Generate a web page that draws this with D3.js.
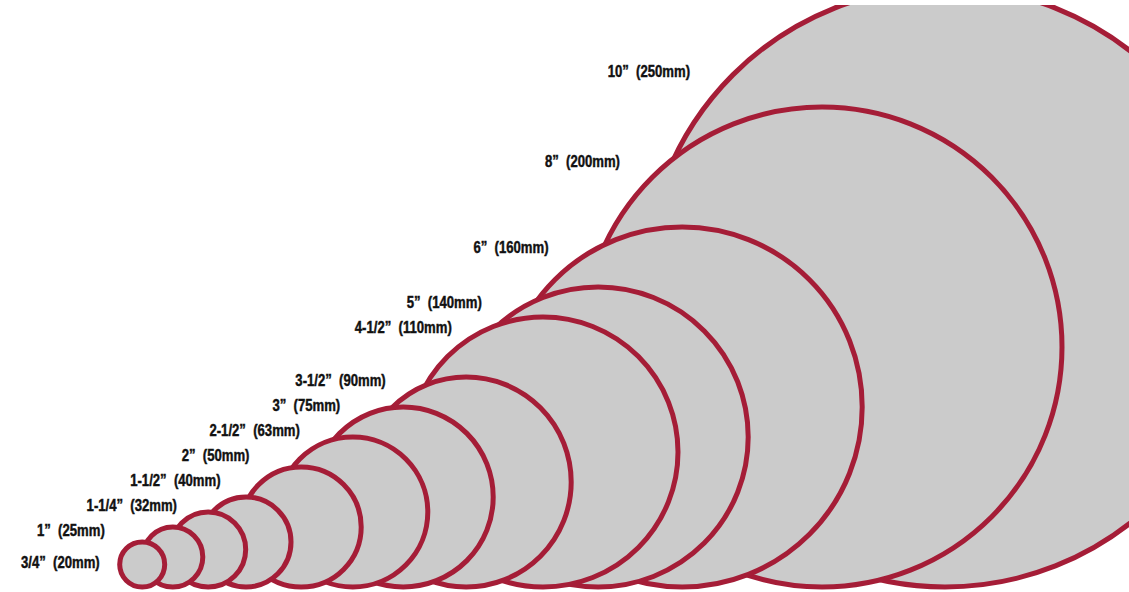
<!DOCTYPE html>
<html>
<head>
<meta charset="utf-8">
<script src="https://cdn.jsdelivr.net/npm/d3@7"></script>
<style>
  html, body { margin: 0; padding: 0; background: #ffffff; }
  svg { display: block; }
  .lbl { font-family: "Liberation Sans", Arial, sans-serif; font-weight: bold; font-size: 16px; fill: #111111; stroke: #111111; stroke-width: 0.45px; white-space: pre; }
</style>
</head>
<body>
<svg id="chart" width="1129" height="592"></svg>
<script>
// ---- data ----
const sizeLabels  = ["3/4", "1", "1-1/4", "1-1/2", "2", "2-1/2", "3", "3-1/2", "4-1/2", "5", "6", "8", "10"];
const diameterIn  = [0.75, 1, 1.25, 1.5, 2, 2.5, 3, 3.5, 4.5, 5, 6, 8, 10];
const diameterMm  = [20, 25, 32, 40, 50, 63, 75, 90, 110, 140, 160, 200, 250];
// horizontal position of each disc centre along the baseline, in inches
const centerIn    = [2.37, 2.88, 3.47, 4.10, 5.02, 5.88, 6.72, 7.77, 9.05, 9.97, 11.37, 13.70, 15.75];

// ---- layout ----
const W = 1129, H = 592;
const rS = d3.scaleLinear().domain([0, 1]).range([0, 60]);     // inches -> px
const xS = d3.scaleLinear().domain([0, 1]).range([0, 60]);     // inches -> px (horizontal)
const yS = d3.scaleLinear().domain([0, 1]).range([587, 527]);  // inches above baseline -> px

const discs = diameterIn.map((d, i) => ({
  i,
  text: sizeLabels[i] + "\u201D\u00A0 (" + diameterMm[i] + "mm)",
  cx: xS(centerIn[i]),
  cy: yS(d / 2),
  r: rS(d / 2)
}));

const svg = d3.select("#chart");
svg.append("defs").append("clipPath").attr("id", "clip")
  .append("rect").attr("x", 0).attr("y", 5).attr("width", W).attr("height", H - 5);

const g = svg.append("g").attr("clip-path", "url(#clip)");
g.selectAll("circle")
  .data(discs.slice().reverse())
  .join("circle")
  .attr("cx", d => d.cx)
  .attr("cy", d => d.cy)
  .attr("r", d => d.r)
  .attr("fill", "#cbcbcb")
  .attr("stroke", "#a51d37")
  .attr("stroke-width", 5);

// upper intersection of two circles
function upperCross(a, b) {
  const dx = b.cx - a.cx, dy = b.cy - a.cy;
  const d = Math.hypot(dx, dy);
  const aa = (a.r * a.r - b.r * b.r + d * d) / (2 * d);
  const h = Math.sqrt(Math.max(0, a.r * a.r - aa * aa));
  const bx = a.cx + aa * dx / d, by = a.cy + aa * dy / d;
  const p1 = { x: bx - h * dy / d, y: by + h * dx / d };
  const p2 = { x: bx + h * dy / d, y: by - h * dx / d };
  return p1.y < p2.y ? p1 : p2;
}
// leftmost visible outline at height y
function envelope(y) {
  let m = Infinity;
  discs.forEach(c => {
    const dy = y - c.cy;
    if (Math.abs(dy) <= c.r) m = Math.min(m, c.cx - Math.sqrt(c.r * c.r - dy * dy));
  });
  return m;
}

// labels sit beside the junction where each disc emerges from the next,
// kept at least one line (25px) above the label below
const n = discs.length, lineGap = 25, centreGap = 88;
discs.forEach((c, i) => {
  let ly, lx, anchor;
  if (i === 0) { ly = c.cy - 2; lx = c.cx - c.r - 20; anchor = "end"; }
  else {
    ly = (i === n - 1) ? c.cy - c.r * 0.72 : upperCross(c, discs[i + 1]).y + 3;
    ly = Math.min(ly, discs[i - 1].ly - lineGap);
    lx = envelope(ly) - centreGap;
    anchor = "middle";
  }
  c.lx = lx; c.ly = ly; c.anchor = anchor;
});

svg.append("g").selectAll("text")
  .data(discs)
  .join("text")
  .attr("class", "lbl")
  .attr("transform", d => `translate(${d.lx},${d.ly}) scale(0.82,1)`)
  .attr("x", 0)
  .attr("y", 0)
  .attr("dy", "0.36em")
  .attr("text-anchor", d => d.anchor)
  .text(d => d.text);
</script>
</body>
</html>
